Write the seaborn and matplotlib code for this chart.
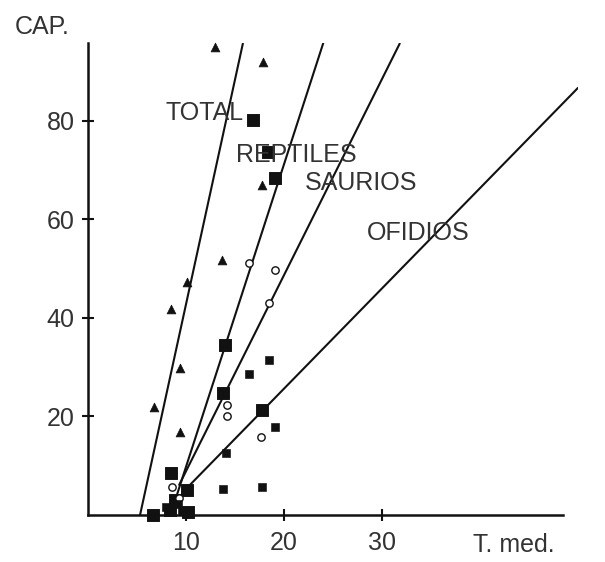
import matplotlib
matplotlib.use('Agg')
import matplotlib.pyplot as plt
import seaborn as sns
import pandas as pd
import numpy as np

sns.set_style('ticks')
plt.rcParams['font.family'] = ['Liberation Sans', 'DejaVu Sans']

# points (T. med. vs CAP.)
total_x = [13.0, 17.9, 17.8, 13.7, 10.1, 8.5, 9.4, 6.7, 9.4]
total_y = [95.0, 92.0, 67.0, 51.8, 47.3, 41.8, 29.8, 21.9, 16.9]

reptiles_x = [16.8, 18.4, 19.1, 14.0, 13.8, 17.7, 8.5, 10.1, 6.6, 8.4, 10.2, 8.9]
reptiles_y = [80.2, 73.7, 68.4, 34.5, 24.8, 21.3, 8.5, 5.1, 0.0, 1.0, 0.6, 3.0]

saurios_x = [16.4, 19.1, 18.5, 14.2, 14.2, 17.6, 8.6, 9.3]
saurios_y = [51.2, 49.7, 43.0, 22.3, 20.1, 15.8, 5.7, 3.4]

ofidios_x = [18.5, 16.4, 19.1, 14.1, 13.8, 17.8, 9.2, 9.6, 8.0]
ofidios_y = [31.5, 28.6, 17.9, 12.6, 5.3, 5.7, 2.2, 0.8, 1.6]

# fitted lines: name, slope, intercept, x start, x end
line_names = ['TOTAL', 'REPTILES', 'SAURIOS', 'OFIDIOS']
line_slope = [9.12, 6.14, 3.98, 2.035]
line_icpt = [-48.4, -51.6, -30.9, -15.05]
line_x0 = [5.3, 9.1, 9.3, 9.9]
line_x1 = [15.8, 24.0, 31.8, 50.0]

# label positions
label_x = [7.9, 15.1, 22.1, 28.5]
label_y = [81.6, 73.1, 67.4, 57.3]

x_ticks = [10, 20, 30]
y_ticks = [20, 40, 60, 80]

fig = plt.figure(figsize=(6.05, 5.62), dpi=100)
ax = fig.add_axes([0.1455, 0.0836, 0.81, 0.84])

ink = '#111111'
txt = '#333333'

rows = []
for n, b, a, x0, x1 in zip(line_names, line_slope, line_icpt, line_x0, line_x1):
    for xx in (x0, x1):
        rows.append({'line': n, 'x': xx, 'y': a + b * xx})
lines = pd.DataFrame(rows)
sns.lineplot(data=lines, x='x', y='y', units='line', estimator=None,
             color=ink, lw=1.5, ax=ax, sort=False)

sns.scatterplot(x=total_x, y=total_y, marker='^', s=40, color=ink,
                edgecolor=ink, ax=ax, clip_on=False, zorder=3)
sns.scatterplot(x=reptiles_x, y=reptiles_y, marker='s', s=70, color=ink,
                edgecolor=ink, ax=ax, clip_on=False, zorder=3)
sns.scatterplot(x=saurios_x, y=saurios_y, marker='o', s=28, color='white',
                edgecolor=ink, linewidth=1.0, ax=ax, clip_on=False, zorder=3)
sns.scatterplot(x=ofidios_x, y=ofidios_y, marker='s', s=30, color=ink,
                edgecolor=ink, ax=ax, clip_on=False, zorder=3)

for t, lx, ly in zip(line_names, label_x, label_y):
    ax.text(lx, ly, t, fontsize=18, color=txt, va='center', ha='left')

ax.set_xlim(0, 50)
ax.set_ylim(0, 95.8)
ax.spines['top'].set_visible(False)
ax.spines['right'].set_visible(False)
ax.spines['left'].set_linewidth(1.8)
ax.spines['bottom'].set_linewidth(1.8)
ax.spines['bottom'].set_bounds(0, 48.5)
ax.spines['left'].set_color(ink)
ax.spines['bottom'].set_color(ink)

ax.set_xticks(x_ticks)
ax.set_yticks(y_ticks)
ax.tick_params(direction='inout', length=9, width=1.5, colors=ink,
               labelsize=18, labelcolor=txt)
ax.tick_params(axis='y', pad=5)
ax.tick_params(axis='x', pad=7)
ax.set_xlabel('')
ax.set_ylabel('')

fig.text(0.025, 0.952, 'CAP.', fontsize=18, color=txt, va='center')
fig.text(0.782, 0.03, 'T. med.', fontsize=18, color=txt, va='center')

fig.savefig('out.png', dpi=100)
